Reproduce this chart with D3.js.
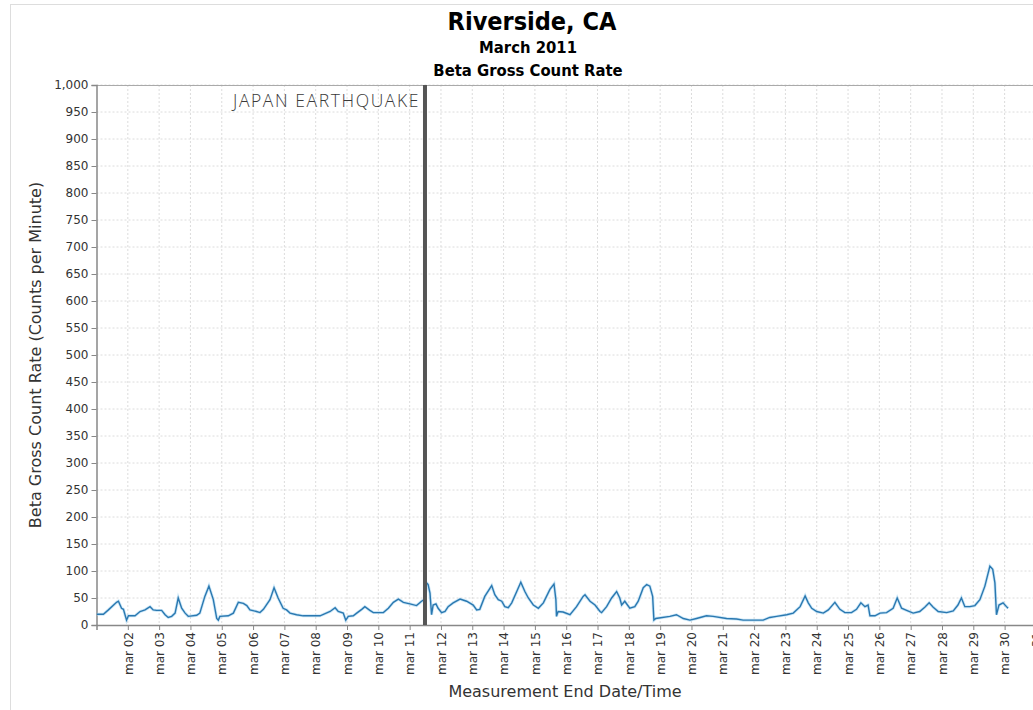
<!DOCTYPE html>
<html>
<head>
<meta charset="utf-8">
<script src="https://cdn.jsdelivr.net/npm/d3@7"></script>
<style>
  body { margin: 0; background: #fff; }
  svg { display: block; }
  text { font-family: "DejaVu Sans", sans-serif; }
</style>
</head>
<body>
<div id="chart"></div>
<script>
// day of March 2011 (1.0 = Mar 1 00:00) and beta gross count rate (CPM)
const days = [
  1.01, 1.22, 1.38, 1.64, 1.70, 1.80, 1.86, 1.96, 2.02, 2.23, 2.39, 2.55, 2.71, 2.81, 2.92, 3.08,
  3.19, 3.29, 3.40, 3.51, 3.61, 3.72, 3.83, 3.93, 4.20, 4.30, 4.46, 4.59, 4.73, 4.84, 4.89, 4.94,
  5.21, 5.37, 5.53, 5.69, 5.80, 5.90, 6.11, 6.22, 6.33, 6.54, 6.67, 6.80, 6.96, 7.07, 7.18, 7.39,
  7.60, 8.14, 8.46, 8.62, 8.72, 8.88, 8.96, 9.04, 9.20, 9.31, 9.47, 9.57, 9.73, 9.84, 10.16, 10.32,
  10.48, 10.64, 10.80, 11.01, 11.22, 11.38, 11.49, 11.54, 11.59, 11.65, 11.70, 11.75, 11.84, 11.91,
  12.02, 12.13, 12.23, 12.39, 12.61, 12.82, 13.03, 13.14, 13.24, 13.40, 13.62, 13.72, 13.83, 13.94,
  14.04, 14.15, 14.26, 14.42, 14.55, 14.68, 14.79, 14.95, 15.11, 15.27, 15.48, 15.61, 15.67, 15.69,
  15.74, 15.90, 16.12, 16.33, 16.54, 16.60, 16.76, 16.92, 17.08, 17.13, 17.29, 17.45, 17.61, 17.71,
  17.77, 17.87, 18.03, 18.19, 18.30, 18.46, 18.57, 18.67, 18.76, 18.80, 18.86, 19.31, 19.52, 19.74,
  19.95, 20.16, 20.48, 20.69, 21.12, 21.44, 21.65, 22.29, 22.50, 22.72, 23.04, 23.25, 23.47, 23.63,
  23.73, 23.84, 24.00, 24.21, 24.37, 24.58, 24.74, 24.90, 25.11, 25.27, 25.41, 25.54, 25.64, 25.70,
  25.86, 26.02, 26.23, 26.44, 26.57, 26.71, 26.87, 27.08, 27.29, 27.45, 27.59, 27.72, 27.88, 28.15,
  28.36, 28.51, 28.62, 28.73, 28.89, 29.05, 29.21, 29.37, 29.53, 29.62, 29.69, 29.74, 29.82, 29.95,
  30.06, 30.11
];
const counts = [
  20, 20, 28, 42, 44, 31, 29, 9, 17, 17, 25, 28, 34, 28, 27, 27,
  19, 14, 16, 22, 50, 31, 22, 16, 18, 22, 53, 72, 47, 12, 9, 16,
  17, 22, 42, 40, 36, 28, 25, 23, 29, 47, 69, 50, 31, 28, 22, 19,
  17, 17, 25, 32, 25, 22, 9, 16, 17, 22, 29, 34, 27, 23, 23, 31,
  42, 48, 42, 39, 36, 44, 48, 78, 75, 59, 19, 37, 39, 31,
  23, 25, 34, 41, 48, 44, 37, 28, 29, 53, 73, 56, 47, 44,
  34, 32, 41, 62, 79, 62, 50, 37, 31, 41, 66, 76, 47, 16,
  25, 24, 19, 34, 53, 56, 44, 37, 25, 23, 34, 50, 62, 50,
  37, 44, 31, 34, 44, 69, 75, 72, 53, 9, 12, 16, 19, 12,
  9, 12, 17, 16, 12, 11, 9, 9, 14, 16, 19, 22, 34, 54,
  41, 31, 25, 22, 28, 42, 29, 23, 23, 29, 41, 34, 37, 17,
  17, 22, 23, 31, 50, 31, 27, 22, 25, 33, 41, 33, 25, 23,
  26, 37, 50, 34, 34, 36, 47, 72, 109, 103, 78, 19, 37, 41,
  34, 31
];
const yTicks = [0, 50, 100, 150, 200, 250, 300, 350, 400, 450, 500, 550, 600, 650, 700, 750, 800, 850, 900, 950, 1000];
const markers = [{ label: "JAPAN EARTHQUAKE", day: 11.49 }];
const titles = ["Riverside, CA", "March 2011", "Beta Gross Count Rate"];

const W = 1033, H = 710;
const margin = { top: 85, left: 96.5, bottom: 85 };
const plotRight = 1040;
const plotBottom = H - margin.bottom;

const toDate = d => new Date(2011, 2, 1, 0, 0).getTime() + (d - 1) * 864e5;
const data = days.map((d, i) => ({ date: new Date(toDate(d)), value: counts[i] }));

const svg = d3.select("#chart").append("svg")
  .attr("width", W)
  .attr("height", H);

// outer frame
svg.append("rect")
  .attr("x", 10.5).attr("y", 4.5)
  .attr("width", W + 20).attr("height", H + 20)
  .style("fill", "#fff")
  .style("stroke", "#ddd");

const x = d3.scaleTime()
  .domain([new Date(2011, 2, 1), new Date(toDate(31.13))])
  .range([margin.left, plotRight]);
const y = d3.scaleLinear()
  .domain([0, 1000])
  .range([plotBottom, margin.top]);

const dayTicks = d3.timeDay.range(new Date(2011, 2, 2), new Date(2011, 2, 31, 12));

// grid
svg.append("g").selectAll("line")
  .data(dayTicks)
  .enter().append("line")
  .attr("x1", d => x(d)).attr("x2", d => x(d))
  .attr("y1", margin.top).attr("y2", plotBottom)
  .style("stroke", "#dcdcdc")
  .style("stroke-dasharray", "2,2");
svg.append("g").selectAll("line")
  .data(yTicks.slice(1))
  .enter().append("line")
  .attr("x1", margin.left).attr("x2", plotRight)
  .attr("y1", d => y(d)).attr("y2", d => y(d))
  .style("stroke", "#dcdcdc")
  .style("stroke-dasharray", "2,2");

// plot border top
svg.append("line")
  .attr("x1", margin.left).attr("x2", plotRight)
  .attr("y1", margin.top + 0.5).attr("y2", margin.top + 0.5)
  .style("stroke", "#aaa");

// axes
const yAxis = svg.append("g")
  .attr("transform", `translate(${margin.left},0)`)
  .call(d3.axisLeft(y).tickValues(yTicks).tickSize(5).tickPadding(3).tickFormat(d3.format(",")));
const xAxis = svg.append("g")
  .attr("transform", `translate(0,${plotBottom})`)
  .call(d3.axisBottom(x).tickValues(dayTicks).tickSize(5)
    .tickFormat(d => d3.timeFormat("%b %d")(d).toLowerCase()));

[yAxis, xAxis].forEach(a => {
  a.select(".domain").style("stroke", "#888").style("stroke-width", 1.5);
  a.selectAll(".tick line").style("stroke", "#888");
  a.selectAll("text").style("font-size", "12px").style("fill", "#333")
    .style("font-family", '"DejaVu Sans", sans-serif');
});
xAxis.selectAll("text")
  .attr("transform", "rotate(-90)")
  .attr("text-anchor", "end")
  .attr("x", -7)
  .attr("y", 0)
  .attr("dy", "0.35em");

// series
const line = d3.line()
  .x(d => x(d.date))
  .y(d => y(d.value));

svg.append("path")
  .datum(data)
  .attr("d", line)
  .style("fill", "none")
  .style("stroke", "#a9d6f2")
  .style("stroke-width", 3)
  .style("stroke-opacity", 0.6);
svg.append("path")
  .datum(data)
  .attr("d", line)
  .style("fill", "none")
  .style("stroke", "#2a78b0")
  .style("stroke-width", 1.4);

// marker
markers.forEach(m => {
  const mx = x(new Date(toDate(m.day)));
  svg.append("line")
    .attr("x1", mx).attr("x2", mx)
    .attr("y1", margin.top).attr("y2", plotBottom)
    .style("stroke", "#555")
    .style("stroke-width", 4);
  svg.append("text")
    .attr("x", mx - 5)
    .attr("y", margin.top + 22)
    .attr("text-anchor", "end")
    .style("font-family", '"Open Sans", Lato, sans-serif')
    .style("font-weight", 300)
    .style("font-size", "17.5px")
    .style("letter-spacing", "1.6px")
    .style("fill", "#3a3a3a")
    .text(m.label);
});

// titles
const titleFont = '"DejaVu Sans Condensed", "DejaVu Sans", sans-serif';
svg.append("text")
  .attr("x", 532).attr("y", 30)
  .attr("text-anchor", "middle")
  .style("font-family", titleFont)
  .style("font-weight", "bold").style("font-size", "25px").style("fill", "#000")
  .text(titles[0]);
svg.append("text")
  .attr("x", 528).attr("y", 53)
  .attr("text-anchor", "middle")
  .style("font-family", titleFont)
  .style("font-weight", "bold").style("font-size", "16.5px").style("fill", "#000")
  .text(titles[1]);
svg.append("text")
  .attr("x", 528).attr("y", 75.5)
  .attr("text-anchor", "middle")
  .style("font-family", titleFont)
  .style("font-weight", "bold").style("font-size", "16.5px").style("fill", "#000")
  .text(titles[2]);

// axis titles
svg.append("text")
  .attr("transform", "translate(41,355) rotate(-90)")
  .attr("text-anchor", "middle")
  .style("font-size", "16px").style("fill", "#333")
  .text("Beta Gross Count Rate (Counts per Minute)");
svg.append("text")
  .attr("x", 565).attr("y", 697)
  .attr("text-anchor", "middle")
  .style("font-size", "16px").style("fill", "#333")
  .text("Measurement End Date/Time");
</script>
</body>
</html>
